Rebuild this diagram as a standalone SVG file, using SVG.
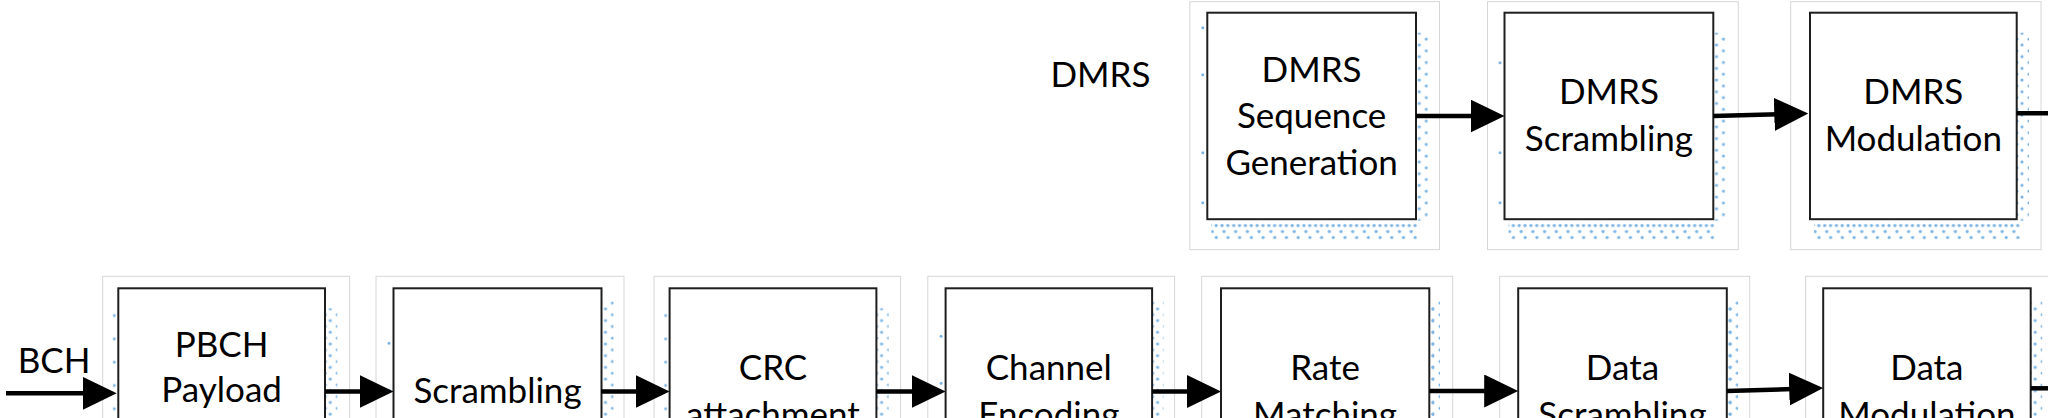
<svg xmlns="http://www.w3.org/2000/svg" width="2048" height="418" viewBox="0 0 2048 418">
<style>
text{font-family:Lato,"Liberation Sans",sans-serif;font-size:35px;fill:#000;text-anchor:middle}
.frame{fill:#fff;stroke:#d6d6d6;stroke-width:1}
.box{fill:#fff;stroke:#1e1e1e;stroke-width:2}
.conn{stroke:#000;stroke-width:4.5;fill:none;marker-end:url(#ah)}
.plain{stroke:#000;stroke-width:4.5;fill:none}
.d{fill:#7db5e4}
</style>
<defs>
<marker id="ah" markerUnits="userSpaceOnUse" markerWidth="36" markerHeight="34" refX="4" refY="16.5" orient="auto" viewBox="0 0 36 34">
<path d="M0,0 L34,16.5 L0,33 z" fill="#000"/>
</marker>
<pattern id="dv" patternUnits="userSpaceOnUse" width="12" height="11.7" x="0" y="0">
<circle class="d" cx="3" cy="3" r="1.6"/>
<circle class="d" cx="8" cy="8.8" r="1.6"/>
</pattern>
<pattern id="dh" patternUnits="userSpaceOnUse" width="11.7" height="20" x="0" y="206.5">
<circle class="d" cx="3" cy="6.3" r="1.6"/>
<circle class="d" cx="8.85" cy="6.3" r="1.6"/>
<circle class="d" cx="5" cy="12.3" r="1.6"/>
<circle class="d" cx="9" cy="18.3" r="1.6"/>
</pattern>
<pattern id="dl" patternUnits="userSpaceOnUse" width="6" height="23.3" x="-6" y="0">
<circle class="d" cx="2" cy="4" r="1.5"/>
</pattern>
</defs>

<text x="1100.5" y="87">DMRS</text>
<text x="54" y="373">BCH</text>

<g id="dmrs-seq" transform="translate(1207.3,12.7)">
<rect class="frame" x="-17.5" y="-11" width="249.7" height="248"/>
<rect x="209" y="20" width="12" height="188" fill="url(#dv)"/>
<rect x="4" y="207" width="206" height="20" fill="url(#dh)"/>
<circle class="d" cx="-4.5" cy="15" r="1.5"/><circle class="d" cx="-4.5" cy="62" r="1.5"/><circle class="d" cx="-4.5" cy="140" r="1.5"/><circle class="d" cx="-4.5" cy="190" r="1.5"/>
<rect class="box" x="0" y="0" width="208.7" height="206.5"/>
<text x="104.3" y="69">DMRS</text>
<text x="104.3" y="115.5">Sequence</text>
<text x="104.3" y="162">Generation</text>
</g>

<g id="dmrs-scr" transform="translate(1504.5,12.7)">
<rect class="frame" x="-17" y="-11" width="250.8" height="248"/>
<rect x="209" y="20" width="12" height="188" fill="url(#dv)"/>
<rect x="4" y="207" width="206" height="20" fill="url(#dh)"/>
<circle class="d" cx="-4.5" cy="50" r="1.5"/><circle class="d" cx="-4.5" cy="140" r="1.5"/><circle class="d" cx="-4.5" cy="190" r="1.5"/>
<rect class="box" x="0" y="0" width="208.8" height="206.5"/>
<text x="104.4" y="91">DMRS</text>
<text x="104.4" y="138">Scrambling</text>
</g>

<g id="dmrs-mod" transform="translate(1810,12.7)">
<rect class="frame" x="-19.3" y="-11" width="250.3" height="248"/>
<rect x="207" y="20" width="12" height="188" fill="url(#dv)"/>
<rect x="4" y="207" width="206" height="20" fill="url(#dh)"/>
<rect class="box" x="0" y="0" width="206.7" height="206.5"/>
<text x="103.3" y="91">DMRS</text>
<text x="103.3" y="138">Modulation</text>
</g>

<g id="pbch" transform="translate(118.3,288.3)">
<rect class="frame" x="-15.6" y="-12" width="246.9" height="248"/>
<rect x="-6" y="15" width="6" height="200" fill="url(#dl)"/>
<rect x="207" y="20" width="12" height="188" fill="url(#dv)"/>
<rect class="box" x="0" y="0" width="206.7" height="206.5"/>
<text x="103.3" y="69">PBCH</text>
<text x="103.3" y="114">Payload</text>
</g>

<g id="scrambling" transform="translate(393.5,288.3)">
<rect class="frame" x="-17.5" y="-12" width="248" height="248"/>
<circle class="d" cx="-4.5" cy="55" r="1.5"/><circle class="d" cx="-4.5" cy="102" r="1.5"/>
<rect x="208" y="12" width="12" height="196" fill="url(#dv)"/>
<rect class="box" x="0" y="0" width="208" height="206.5"/>
<text x="104" y="114.5">Scrambling</text>
</g>

<g id="crc" transform="translate(669.6,288.3)">
<rect class="frame" x="-15.6" y="-12" width="246.6" height="248"/>
<rect x="-6" y="15" width="6" height="200" fill="url(#dl)"/>
<rect x="207" y="20" width="12" height="188" fill="url(#dv)"/>
<rect class="box" x="0" y="0" width="206.8" height="206.5"/>
<text x="103.4" y="92">CRC</text>
<text x="103.4" y="138.5">attachment</text>
</g>

<g id="channel-enc" transform="translate(945.6,288.3)">
<rect class="frame" x="-17.8" y="-12" width="246.8" height="248"/>
<circle class="d" cx="-4.5" cy="48" r="1.5"/><circle class="d" cx="-4.5" cy="95" r="1.5"/>
<rect x="206" y="12" width="12" height="196" fill="url(#dv)"/>
<rect class="box" x="0" y="0" width="206.5" height="206.5"/>
<text x="103.2" y="92">Channel</text>
<text x="103.2" y="138.5">Encoding</text>
</g>

<g id="rate-match" transform="translate(1221,288.3)">
<rect class="frame" x="-19.3" y="-12" width="251" height="248"/>
<rect x="207" y="12" width="12" height="196" fill="url(#dv)"/>
<rect x="207" y="18" width="6" height="190" fill="url(#dv)"/>
<rect class="box" x="0" y="0" width="208.3" height="206.5"/>
<text x="104.1" y="92">Rate</text>
<text x="104.1" y="138.5">Matching</text>
</g>

<g id="data-scr" transform="translate(1518.2,288.3)">
<rect class="frame" x="-18.5" y="-12" width="250" height="248"/>
<rect x="208" y="12" width="12" height="196" fill="url(#dv)"/>
<rect x="208" y="18" width="6" height="190" fill="url(#dv)"/>
<rect class="box" x="0" y="0" width="208.6" height="206.5"/>
<text x="104.3" y="92">Data</text>
<text x="104.3" y="138.5">Scrambling</text>
</g>

<g id="data-mod" transform="translate(1823.2,288.3)">
<rect class="frame" x="-17.6" y="-12" width="249" height="248"/>
<rect x="207" y="12" width="12" height="196" fill="url(#dv)"/>
<rect class="box" x="0" y="0" width="207.5" height="206.5"/>
<text x="103.7" y="92">Data</text>
<text x="103.7" y="138.5">Modulation</text>
</g>

<g id="connectors">
<line class="conn" x1="6" y1="393.3" x2="86.7" y2="393.3"/>
<line class="conn" x1="325" y1="391.5" x2="363.5" y2="391.5"/>
<line class="conn" x1="601" y1="391.5" x2="639.6" y2="391.5"/>
<line class="conn" x1="876.4" y1="391.5" x2="915.6" y2="391.5"/>
<line class="conn" x1="1152" y1="391.5" x2="1191" y2="391.5"/>
<line class="conn" x1="1429.3" y1="391" x2="1488.2" y2="391"/>
<line class="conn" x1="1727" y1="391" x2="1793.2" y2="389"/>
<line class="plain" x1="2030.7" y1="388.3" x2="2050" y2="388.3"/>
<line class="conn" x1="1416" y1="116" x2="1474.5" y2="116"/>
<line class="conn" x1="1713.3" y1="116" x2="1778.3" y2="114.3"/>
<line class="plain" x1="2016.7" y1="113.3" x2="2050" y2="113.3"/>
</g>
</svg>
